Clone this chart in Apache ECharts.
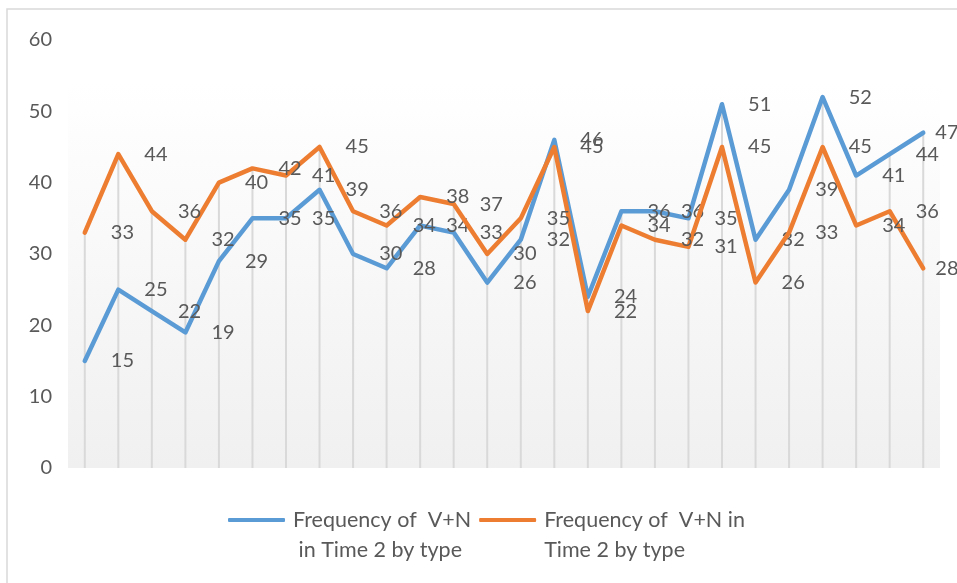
<!DOCTYPE html>
<html>
<head>
<meta charset="utf-8">
<script src="https://cdn.jsdelivr.net/npm/echarts@6/dist/echarts.min.js"></script>
<style>
  html, body { margin: 0; padding: 0; background: #ffffff; }
  #chart { width: 957px; height: 583px; }
</style>
</head>
<body>
<div id="chart"></div>
<script>
// Item types along the x axis (not labelled on the chart)
const categories = ['1', '2', '3', '4', '5', '6', '7', '8', '9', '10', '11', '12', '13',
  '14', '15', '16', '17', '18', '19', '20', '21', '22', '23', '24', '25', '26'];

const seriesNameA = 'Frequency of  V+N\n in Time 2 by type';
const seriesNameB = 'Frequency of  V+N in\nTime 2 by type';

const valuesA = [15, 25, 22, 19, 29, 35, 35, 39, 30, 28, 34, 33, 26, 32, 46, 24, 36, 36, 35, 51, 32, 39, 52, 41, 44, 47];
const valuesB = [33, 44, 36, 32, 40, 42, 41, 45, 36, 34, 38, 37, 30, 35, 45, 22, 34, 32, 31, 45, 26, 33, 45, 34, 36, 28];

const yTicks = { min: 0, max: 60, interval: 10 };

// Drop lines run from the higher of the two points down to the axis
const dropValues = categories.map((_, i) => Math.max(valuesA[i], valuesB[i]));

const FONT = 'Lato, "Open Sans", sans-serif';
const TEXT_COLOR = '#595959';

// The last labels are pulled closer so they stay inside the chart edge
function withLabels(values) {
  const last = values.length - 1;
  return values.map((v, i) => i === last ? { value: v, label: { distance: 12 } } : v);
}

const chart = echarts.init(document.getElementById('chart'), null, { renderer: 'canvas' });

const labelStyle = {
  show: true,
  position: 'right',
  distance: 26,
  color: TEXT_COLOR,
  fontFamily: FONT,
  fontSize: 20
};

chart.setOption({
  animation: false,
  backgroundColor: '#ffffff',
  graphic: [{
    type: 'rect',
    shape: { x: 7, y: 9, width: 980, height: 600 },
    style: { fill: null, stroke: '#d9d9d9', lineWidth: 1.5 },
    silent: true,
    z: -1
  }],
  grid: {
    left: 68,
    right: 17,
    top: 40,
    bottom: 115,
    show: true,
    borderWidth: 0,
    backgroundColor: {
      type: 'linear', x: 0, y: 0, x2: 0, y2: 1,
      colorStops: [
        { offset: 0, color: '#ffffff' },
        { offset: 0.1, color: '#ffffff' },
        { offset: 1, color: '#f0f0f0' }
      ]
    }
  },
  legend: {
    data: [seriesNameA, seriesNameB],
    left: 228,
    top: 475,
    padding: 0,
    itemGap: 8,
    itemWidth: 57,
    itemHeight: 4,
    icon: 'roundRect',
    formatter: name => '\n' + name,
    textStyle: {
      color: TEXT_COLOR,
      fontFamily: FONT,
      fontSize: 21.5,
      lineHeight: 30,
      padding: [0, 0, 0, 3]
    }
  },
  xAxis: {
    type: 'category',
    data: categories,
    boundaryGap: true,
    axisLine: { show: false },
    axisTick: { show: false },
    axisLabel: { show: false },
    splitLine: { show: false }
  },
  yAxis: {
    type: 'value',
    min: yTicks.min,
    max: yTicks.max,
    interval: yTicks.interval,
    axisLine: { show: false },
    axisTick: { show: false },
    splitLine: { show: false },
    axisLabel: {
      color: TEXT_COLOR,
      fontFamily: FONT,
      fontSize: 20,
      margin: 16
    }
  },
  series: [
    {
      name: 'drop lines',
      type: 'bar',
      data: dropValues,
      barWidth: 2,
      silent: true,
      itemStyle: { color: '#d9d9d9' },
      z: 1
    },
    {
      name: seriesNameA,
      type: 'line',
      data: withLabels(valuesA),
      symbol: 'circle',
      symbolSize: 0.1,
      showSymbol: true,
      itemStyle: { color: '#5b9bd5' },
      lineStyle: { color: '#5b9bd5', width: 4.5, join: 'round', cap: 'round' },
      label: labelStyle,
      z: 3
    },
    {
      name: seriesNameB,
      type: 'line',
      data: withLabels(valuesB),
      symbol: 'circle',
      symbolSize: 0.1,
      showSymbol: true,
      itemStyle: { color: '#ed7d31' },
      lineStyle: { color: '#ed7d31', width: 4.5, join: 'round', cap: 'round' },
      label: labelStyle,
      z: 4
    }
  ]
});
</script>
</body>
</html>
